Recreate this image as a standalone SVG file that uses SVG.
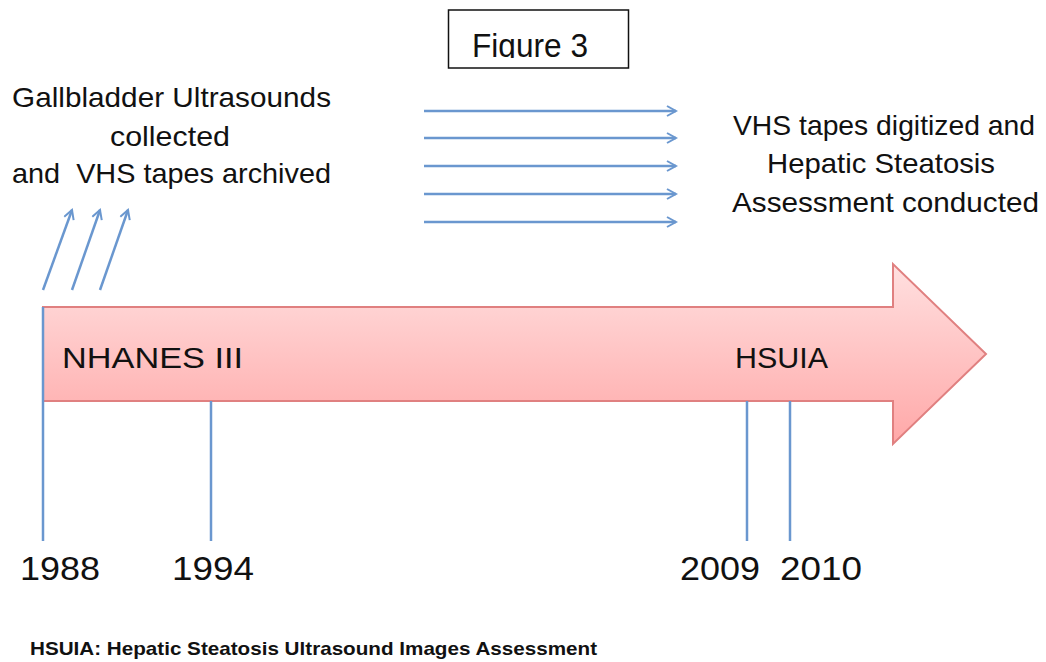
<svg xmlns="http://www.w3.org/2000/svg" width="1046" height="662" viewBox="0 0 1046 662">
<style>
text{font-family:"Liberation Sans",Arial,sans-serif;fill:#111}
.lbl{font-size:28px}
.yr{font-size:34px}
.conn{stroke:#6a97cf;stroke-width:2.5;fill:none}
.tick{stroke:#6a97cf;stroke-width:2.5;fill:none}
</style>
<defs>
<linearGradient id="g" x1="0" y1="0" x2="0" y2="1">
<stop offset="0" stop-color="#ffe0e0"/>
<stop offset="1" stop-color="#ffa8a8"/>
</linearGradient>
<marker id="ah" viewBox="0 0 12 12" refX="10" refY="6" markerWidth="12" markerHeight="12" markerUnits="userSpaceOnUse" orient="auto">
<path d="M1,1 L10,6 L1,11" fill="none" stroke="#6a97cf" stroke-width="2"/>
</marker>
<clipPath id="figclip"><rect x="449" y="10" width="179" height="48"/></clipPath>
</defs>
<rect width="1046" height="662" fill="#fff"/>
<g id="title">
<rect x="448.5" y="10" width="180" height="58" fill="#fff" stroke="#111" stroke-width="1.5"/>
<text x="472" y="57" style="font-size:34px" textLength="116" lengthAdjust="spacingAndGlyphs" clip-path="url(#figclip)">Figure 3</text>
</g>
<g id="timeline">
<path d="M43,307 L893,307 L893,264 L986,354 L893,444 L893,401 L43,401 Z" fill="url(#g)" stroke="#e08080" stroke-width="2"/>
<text x="62" y="368" class="lbl" style="font-size:30px" textLength="181" lengthAdjust="spacingAndGlyphs">NHANES III</text>
<text x="735" y="368" class="lbl" style="font-size:30px" textLength="93" lengthAdjust="spacingAndGlyphs">HSUIA</text>
</g>
<g id="connectors">
<line class="tick" x1="43" y1="307" x2="43" y2="541"/>
<line class="tick" x1="211" y1="401" x2="211" y2="541"/>
<line class="tick" x1="747" y1="401" x2="747" y2="541"/>
<line class="tick" x1="790" y1="401" x2="790" y2="541"/>
<line class="conn" x1="43" y1="290" x2="72" y2="210" marker-end="url(#ah)"/>
<line class="conn" x1="72" y1="290" x2="100" y2="210" marker-end="url(#ah)"/>
<line class="conn" x1="100" y1="290" x2="128" y2="210" marker-end="url(#ah)"/>
<line class="conn" x1="424" y1="111" x2="676" y2="111" marker-end="url(#ah)"/>
<line class="conn" x1="424" y1="138" x2="676" y2="138" marker-end="url(#ah)"/>
<line class="conn" x1="424" y1="166" x2="676" y2="166" marker-end="url(#ah)"/>
<line class="conn" x1="424" y1="194" x2="676" y2="194" marker-end="url(#ah)"/>
<line class="conn" x1="424" y1="222" x2="676" y2="222" marker-end="url(#ah)"/>
</g>
<g id="left-text">
<text x="12" y="107" class="lbl" textLength="319" lengthAdjust="spacingAndGlyphs">Gallbladder Ultrasounds</text>
<text x="110" y="146" class="lbl" textLength="120" lengthAdjust="spacingAndGlyphs">collected</text>
<text x="12" y="183" class="lbl" textLength="319" lengthAdjust="spacingAndGlyphs" xml:space="preserve">and  VHS tapes archived</text>
</g>
<g id="right-text">
<text x="733" y="135" class="lbl" textLength="302" lengthAdjust="spacingAndGlyphs">VHS tapes digitized and</text>
<text x="767" y="173" class="lbl" textLength="228" lengthAdjust="spacingAndGlyphs">Hepatic Steatosis</text>
<text x="732" y="212" class="lbl" textLength="307" lengthAdjust="spacingAndGlyphs">Assessment conducted</text>
</g>
<g id="years">
<text x="20" y="580" class="yr" textLength="80" lengthAdjust="spacingAndGlyphs">1988</text>
<text x="172" y="580" class="yr" textLength="82" lengthAdjust="spacingAndGlyphs">1994</text>
<text x="680" y="580" class="yr" textLength="80" lengthAdjust="spacingAndGlyphs">2009</text>
<text x="780" y="580" class="yr" textLength="82" lengthAdjust="spacingAndGlyphs">2010</text>
</g>
<g id="footer">
<text x="30" y="655" style="font-size:19px;font-weight:bold" textLength="567" lengthAdjust="spacingAndGlyphs">HSUIA: Hepatic Steatosis Ultrasound Images Assessment</text>
</g>
</svg>
